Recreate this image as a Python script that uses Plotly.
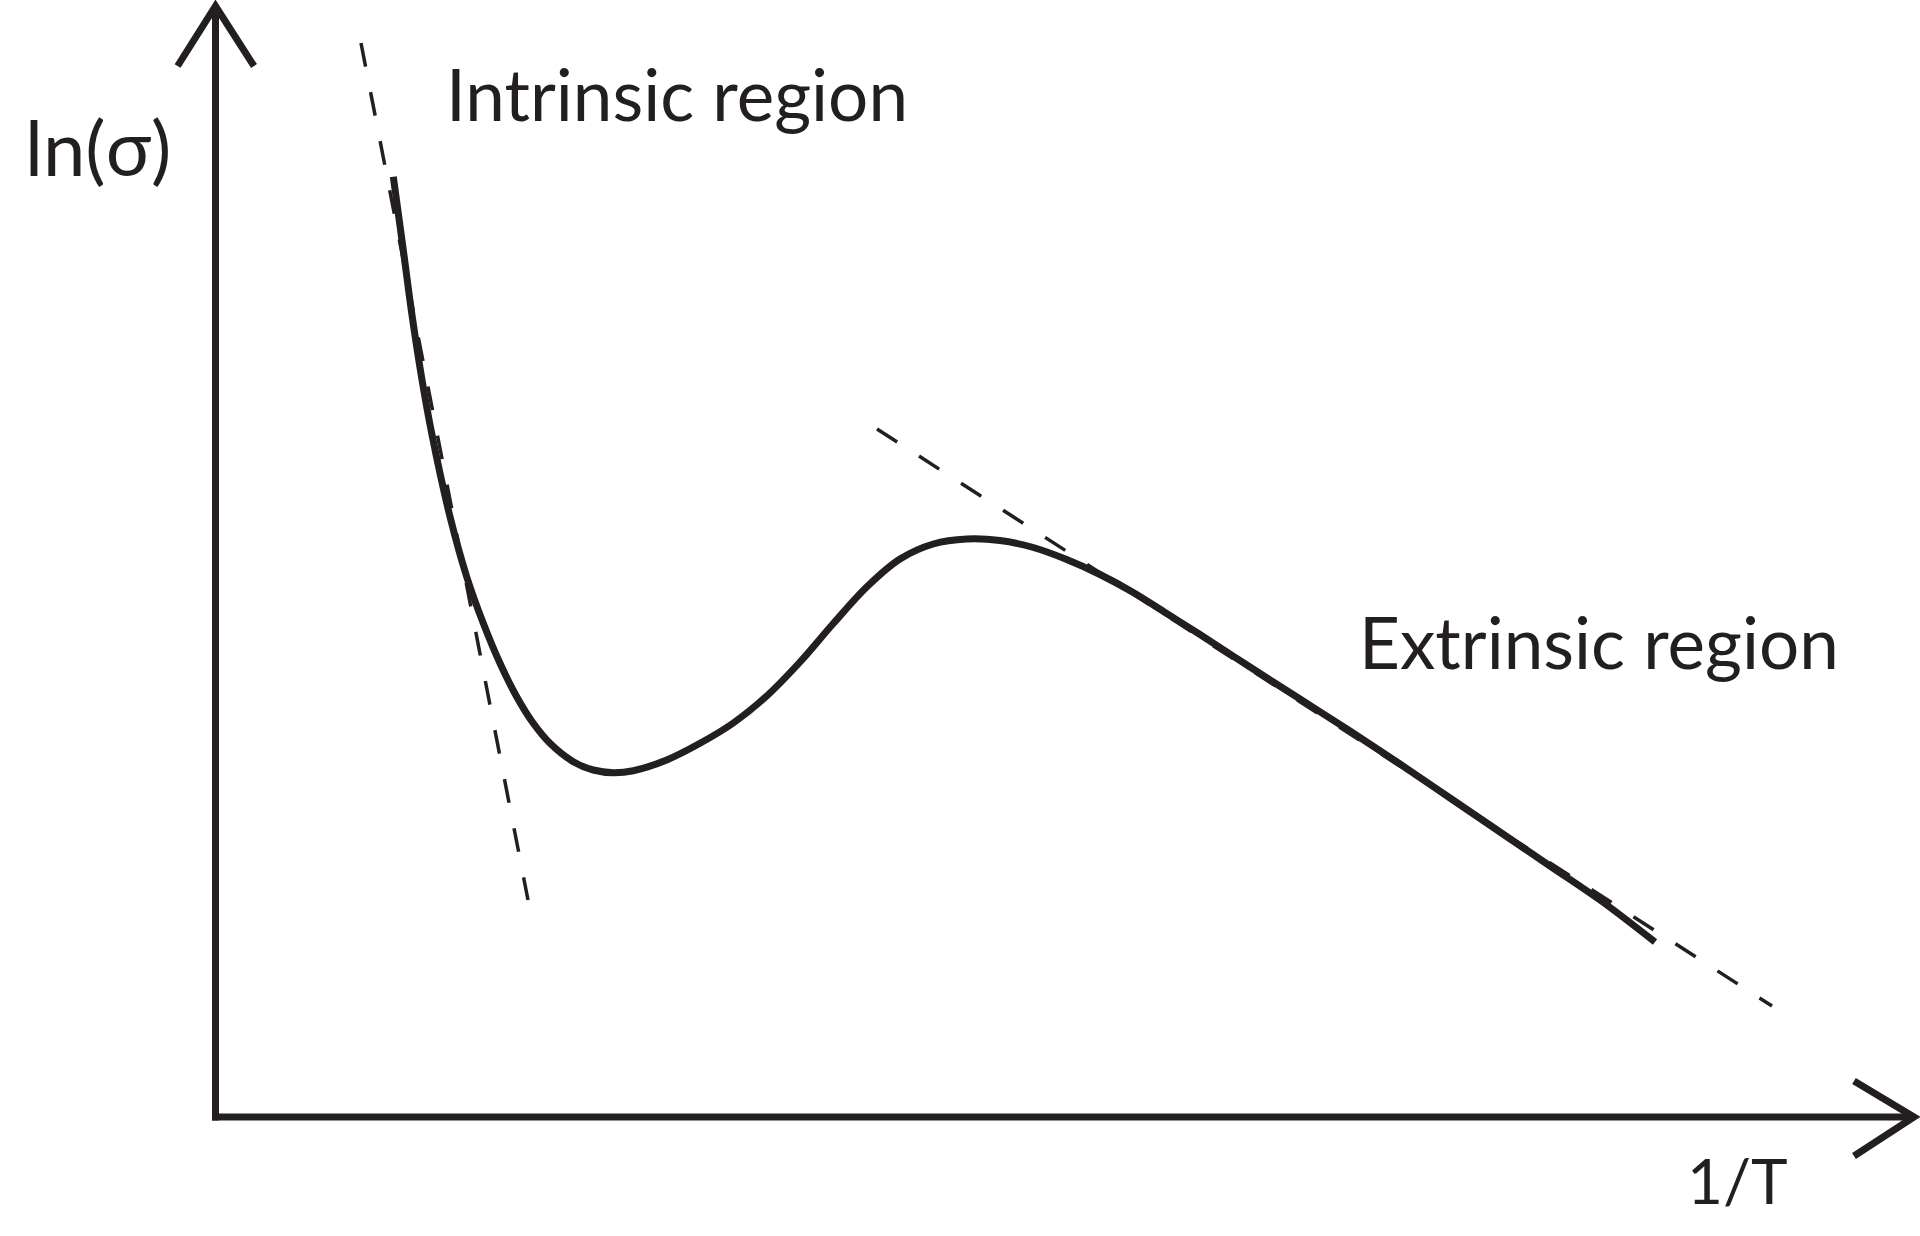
import plotly.graph_objects as go

# conductivity curve (1/T, ln(sigma)) in arbitrary units
curve_x = [1.778, 1.878, 1.962, 2.062, 2.162, 2.345, 2.512, 2.678, 2.845, 3.012,
           3.178, 3.345, 3.578, 3.778, 3.978, 4.178, 4.512, 4.845, 5.178, 5.512,
           5.845, 6.178, 6.512, 6.845, 7.178, 7.512, 7.845, 8.178, 8.512, 8.845,
           9.178, 9.512, 9.845, 10.345, 10.845, 11.345, 11.845, 12.345, 12.845,
           13.345, 13.845, 14.395]
curve_y = [9.403, 8.670, 8.040, 7.390, 6.837, 6.003, 5.403, 4.937, 4.537, 4.203,
           3.937, 3.737, 3.553, 3.470, 3.443, 3.463, 3.570, 3.737, 3.940, 4.210,
           4.550, 4.935, 5.300, 5.580, 5.730, 5.780, 5.765, 5.695, 5.575, 5.425,
           5.245, 5.035, 4.825, 4.500, 4.180, 3.860, 3.530, 3.190, 2.850,
           2.510, 2.170, 1.750]

# asymptotes
intrinsic_x = [1.455, 3.125]
intrinsic_y = [10.74, 2.17]
extrinsic_x = [6.615, 15.565]
extrinsic_y = [6.88, 1.11]

labels = {
    "y_title": "ln(σ)",
    "x_title": "1/T",
    "intrinsic": "Intrinsic region",
    "extrinsic": "Extrinsic region",
}

ink = "#231f20"
font_family = "Lato"

fig = go.Figure()

fig.add_trace(go.Scatter(x=intrinsic_x, y=intrinsic_y, mode="lines",
                         line=dict(color=ink, width=3.5, dash="24px,26px")))
fig.add_trace(go.Scatter(x=extrinsic_x, y=extrinsic_y, mode="lines",
                         line=dict(color=ink, width=3.5, dash="24px,26px")))
fig.add_trace(go.Scatter(x=curve_x, y=curve_y, mode="lines",
                         line=dict(color=ink, width=7, shape="spline", smoothing=1.0)))

# axes with open arrowheads
axis_style = dict(type="path", xref="x", yref="y", line=dict(color=ink, width=7))
shapes = [
    dict(path="M 0 -0.035 L 0 11.11", **axis_style),
    dict(path="M -0.035 0 L 16.985 0", **axis_style),
    dict(path="M -0.379 10.51 L 0 11.11 L 0.385 10.51", **axis_style),
    dict(path="M 16.385 0.36 L 16.985 0 L 16.385 -0.39", **axis_style),
]

annotations = [
    dict(text=labels["y_title"], x=-1.93, y=9.705, size=76),
    dict(text=labels["intrinsic"], x=2.28, y=10.24, size=71),
    dict(text=labels["extrinsic"], x=11.415, y=4.755, size=71),
    dict(text=labels["x_title"], x=14.695, y=-0.63, size=62),
]
for a in annotations:
    size = a.pop("size")
    a.update(xref="x", yref="y", xanchor="left", yanchor="middle", showarrow=False,
             font=dict(family=font_family, size=size, color=ink))

fig.update_layout(
    width=1920,
    height=1236,
    margin=dict(l=0, r=0, t=0, b=0),
    plot_bgcolor="#fff",
    paper_bgcolor="#fff",
    showlegend=False,
    shapes=shapes,
    annotations=annotations,
    xaxis=dict(range=[-2.155, 17.045], visible=False, fixedrange=True),
    yaxis=dict(range=[-1.19, 11.17], visible=False, fixedrange=True),
)

fig.write_html("out.html", config={"displayModeBar": False},
               post_script="document.body.style.margin = '0';")
